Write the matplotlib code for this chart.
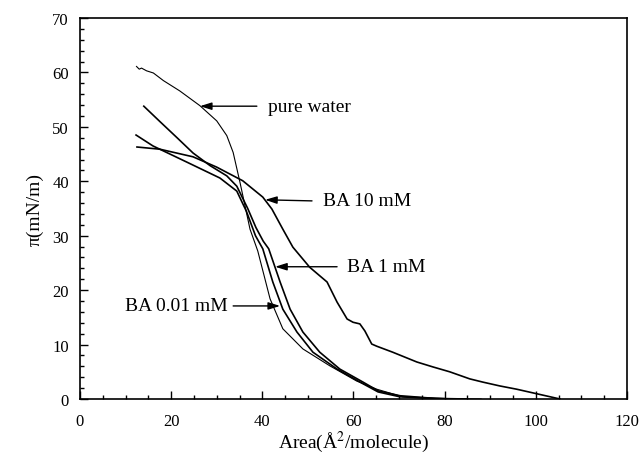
import matplotlib.pyplot as plt
from matplotlib.ticker import MultipleLocator

# ==========================
# Data (read from the isotherms)
# ==========================

water_area = [12.4, 13.0, 13.5, 14.6, 16.1, 18.3, 21.9, 26.3, 30.0, 32.2, 33.6,
              35.1, 36.2, 37.3, 39.0, 41.7, 44.5, 48.9, 54.8, 60.7, 65.1,
              70.8, 76.0, 82.0, 88.0]
water_pi = [61.1, 60.6, 60.8, 60.3, 59.9, 58.5, 56.6, 53.9, 51.1, 48.4, 45.3,
            39.8, 35.5, 31.2, 27.2, 18.4, 12.9, 9.2, 6.1, 3.3, 1.8,
            0.4, 0.15, 0.05, 0.0]

ba10_area = [12.5, 17.5, 24.8, 30.0, 35.7, 40.1, 42.1, 44.5, 46.7, 50.4,
             54.2, 56.4, 58.6, 59.9, 61.4, 62.5, 64.0, 65.1, 68.6, 73.9,
             77.4, 81.1, 85.5, 88.4, 92.1, 95.8, 105.3]
ba10_pi = [46.3, 45.9, 44.5, 42.6, 40.1, 37.1, 34.9, 31.2, 27.9, 24.2,
           21.5, 17.8, 14.7, 14.1, 13.8, 12.5, 10.1, 9.7, 8.6, 6.8,
           5.9, 5.0, 3.7, 3.1, 2.4, 1.8, 0.0]

ba1_area = [14.0, 17.5, 21.3, 24.8, 28.5, 32.2, 34.4, 36.8, 38.6, 40.2,
            41.4, 43.9, 46.1, 48.9, 52.6, 57.0, 62.1, 65.4, 70.2, 78.0, 85.0]
ba1_pi = [53.8, 51.0, 48.0, 45.2, 42.9, 41.0, 39.1, 35.0, 31.5, 29.0,
          27.6, 21.5, 16.5, 12.3, 8.6, 5.5, 3.1, 1.5, 0.6, 0.1, 0.0]

ba001_area = [12.3, 16.0, 23.5, 30.7, 34.4, 36.5, 38.5, 40.1, 42.3, 44.5,
              47.6, 51.1, 56.4, 62.1, 65.4, 70.2, 80.0]
ba001_pi = [48.5, 46.5, 43.5, 40.6, 38.2, 34.5, 30.0, 27.6, 21.5, 16.5,
            12.3, 8.6, 5.5, 2.8, 1.3, 0.4, 0.05]

# label, text position, arrow tail, arrow tip
labels = ["pure water", "BA 10 mM", "BA 1 mM", "BA 0.01 mM"]
label_xy = [(41.2, 53.8), (53.3, 36.4), (58.6, 24.3), (32.5, 17.1)]
arrow_tail = [(38.8, 53.8), (50.9, 36.4), (56.4, 24.3), (33.6, 17.1)]
arrow_tip = [(26.3, 53.8), (40.6, 36.6), (42.8, 24.3), (43.9, 17.1)]

# ==========================
# Plot
# ==========================

plt.rcParams["font.family"] = ["Liberation Serif", "DejaVu Serif"]
plt.rcParams["mathtext.fontset"] = "stix"

fig = plt.figure(figsize=(6.43, 4.56), dpi=100)
ax = fig.add_axes([0.1244, 0.1228, 0.8507, 0.8355])

ax.plot(water_area, water_pi, color="black", lw=0.8)
ax.plot(ba10_area, ba10_pi, color="black", lw=1.2)
ax.plot(ba1_area, ba1_pi, color="black", lw=1.2)
ax.plot(ba001_area, ba001_pi, color="black", lw=1.2)

for i in range(len(labels)):
    ax.annotate(
        "",
        xy=arrow_tip[i],
        xytext=arrow_tail[i],
        arrowprops=dict(arrowstyle="-|>,head_length=0.7,head_width=0.22",
                        color="black", lw=1.0, shrinkA=0, shrinkB=0)
    )
    ha = "right" if labels[i] == "BA 0.01 mM" else "left"
    ax.text(label_xy[i][0], label_xy[i][1], labels[i],
            ha=ha, va="center", fontsize=14)

ax.set_xlim(0, 120)
ax.set_ylim(0, 70)

ax.xaxis.set_major_locator(MultipleLocator(20))
ax.xaxis.set_minor_locator(MultipleLocator(5))
ax.yaxis.set_major_locator(MultipleLocator(10))
ax.yaxis.set_minor_locator(MultipleLocator(2))

ax.tick_params(which="both", direction="in", top=False, right=False,
               labelsize=12, width=1.0)
ax.tick_params(which="major", length=6)
ax.tick_params(which="minor", length=3)
ax.tick_params(axis="x", pad=10)
ax.tick_params(axis="y", pad=8)

for s in ax.spines.values():
    s.set_linewidth(1.2)

ax.set_xlabel("Area(Å$^2$/molecule)", fontsize=14, labelpad=0)
ax.set_ylabel("π(mN/m)", fontsize=14, labelpad=6)

plt.savefig("out.png", dpi=100)
